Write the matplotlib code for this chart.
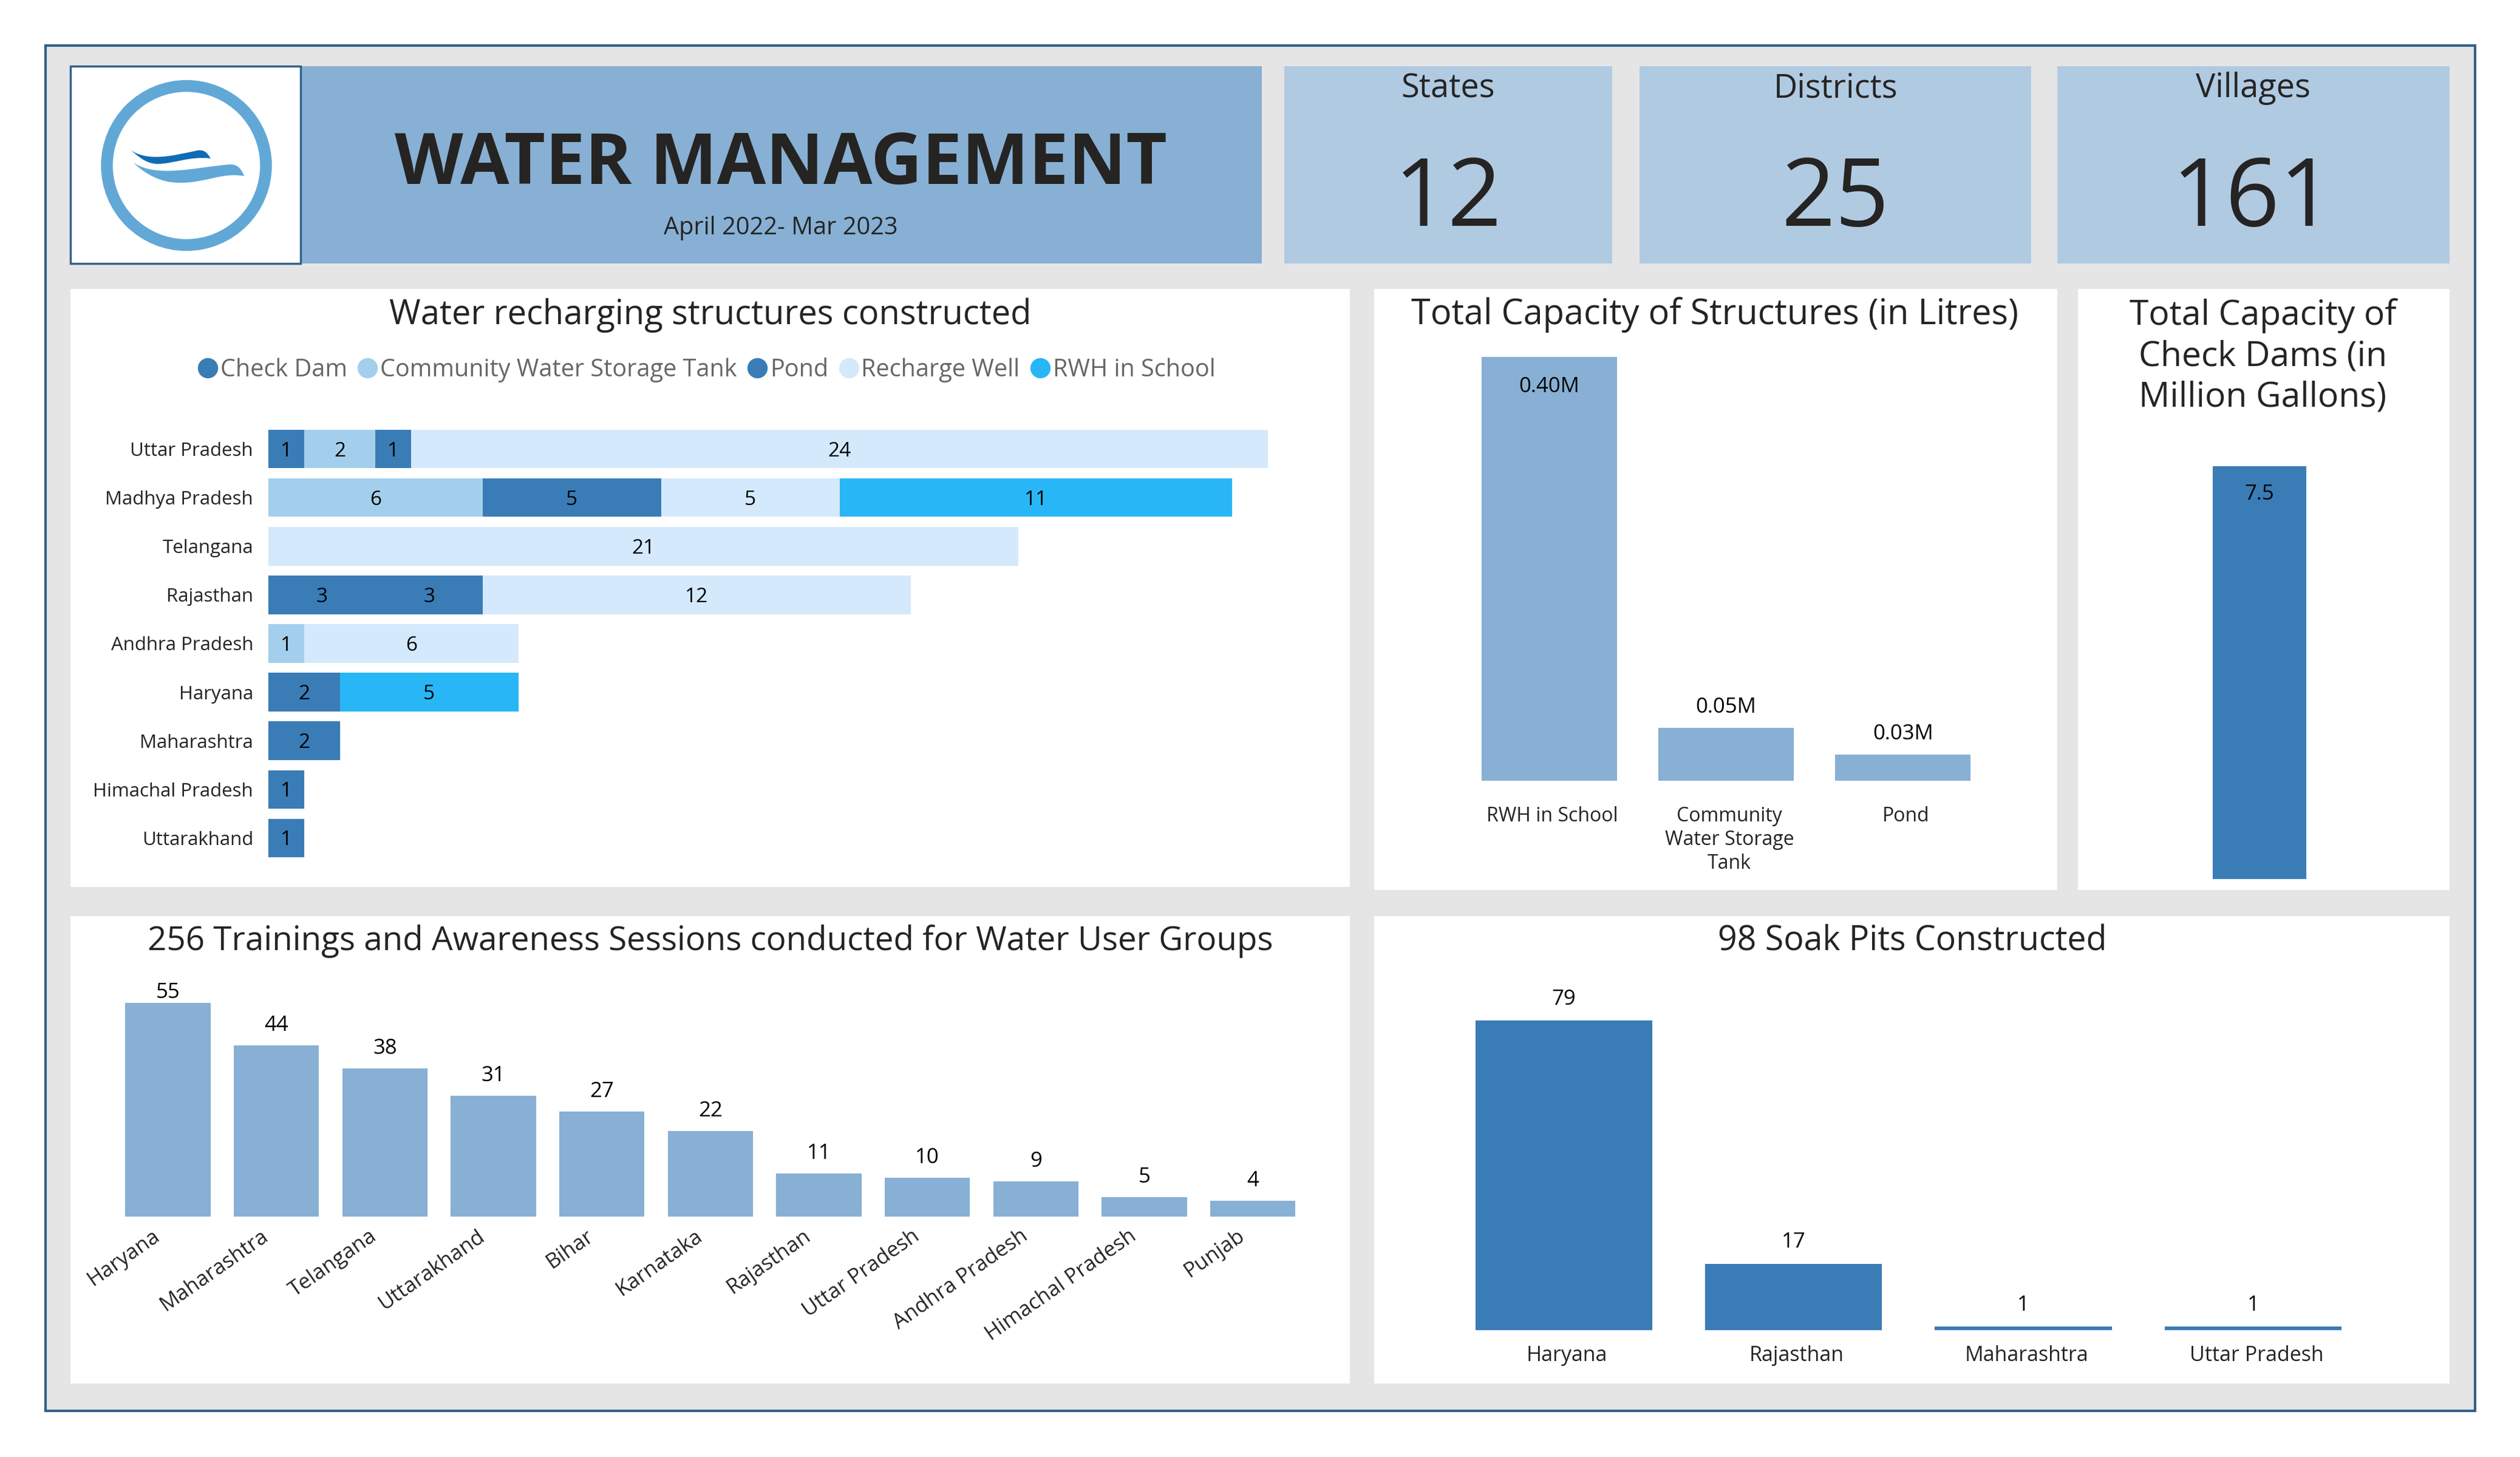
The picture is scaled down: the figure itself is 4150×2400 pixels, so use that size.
"""Water management dashboard."""

import matplotlib
matplotlib.use("Agg")
import matplotlib.pyplot as plt
from matplotlib.lines import Line2D
from matplotlib.patches import Circle, PathPatch, Rectangle
from matplotlib.path import Path
from matplotlib.transforms import ScaledTranslation

plt.rcParams["font.family"] = ["Open Sans", "DejaVu Sans"]

# headline numbers
card_names = ["States", "Districts", "Villages"]
card_values = [12, 25, 161]

# stacked bar: structures per state
structure_states = ["Uttar Pradesh", "Madhya Pradesh", "Telangana", "Rajasthan",
                    "Andhra Pradesh", "Haryana", "Maharashtra",
                    "Himachal Pradesh", "Uttarakhand"]
check_dam = [1, 0, 0, 3, 0, 2, 2, 1, 1]
storage_tank = [2, 6, 0, 0, 1, 0, 0, 0, 0]
pond = [1, 5, 0, 3, 0, 0, 0, 0, 0]
recharge_well = [24, 5, 21, 12, 6, 0, 0, 0, 0]
rwh_school = [0, 11, 0, 0, 0, 5, 0, 0, 0]
structure_names = ["Check Dam", "Community Water Storage Tank", "Pond",
                   "Recharge Well", "RWH in School"]

# capacity of structures, litres (millions)
capacity_names = ["RWH in School", "Community\nWater Storage\nTank", "Pond"]
capacity_values = [0.40, 0.05, 0.025]
capacity_labels = ["0.40M", "0.05M", "0.03M"]

check_dam_capacity = [7.5]

# trainings
training_states = ["Haryana", "Maharashtra", "Telangana", "Uttarakhand", "Bihar",
                   "Karnataka", "Rajasthan", "Uttar Pradesh", "Andhra Pradesh",
                   "Himachal Pradesh", "Punjab"]
training_counts = [55, 44, 38, 31, 27, 22, 11, 10, 9, 5, 4]

# soak pits
soak_states = ["Haryana", "Rajasthan", "Maharashtra", "Uttar Pradesh"]
soak_counts = [79, 17, 1, 1]

BG = "#E5E5E5"
EDGE = "#33618A"
BAND = "#87B0D4"
CARD = "#B0CAE2"
DARK = "#3A7CB6"
INK = "#252423"
LOGO = "#62A8D6"
structure_colors = [DARK, "#A4CFEC", DARK, "#D4E9FB", "#29B6F6"]

# layout is measured on a 1568 wide view of the page
W = 1568
H = 2400 * W / 4150
fig = plt.figure(figsize=(41.5, 24), dpi=100, facecolor="white")

page = fig.add_axes([0, 0, 1, 1], zorder=0)
page.set_xlim(0, W)
page.set_ylim(H, 0)
page.axis("off")


def box(l, t, r, b, color, edge="none", lw=0, zorder=1):
    page.add_patch(Rectangle((l, t), r - l, b - t, facecolor=color, edgecolor=edge,
                             linewidth=lw, zorder=zorder))


def chart_axes(l, t, r, b):
    ax = fig.add_axes([l / W, 1 - b / H, (r - l) / W, (b - t) / H], zorder=2)
    ax.patch.set_alpha(0)
    for side in ax.spines.values():
        side.set_visible(False)
    ax.set_yticks([])
    ax.tick_params(length=0)
    return ax


def label(x, y, s, size, color=INK, **kw):
    page.text(x, y, s, fontsize=size, color=color, ha="center", va="center", zorder=3, **kw)


def nudge_ticks(ax, points):
    # tick labels sit a little off the bar centres in the original
    shift = ScaledTranslation(points / 72, 0, fig.dpi_scale_trans)
    for tick in ax.get_xticklabels():
        tick.set_transform(tick.get_transform() + shift)


box(28.5, 28.5, 1540, 878, BG, EDGE, 3)

# header
box(187, 41, 785, 164, BAND)
box(44, 41, 187, 164, "white", EDGE, 2.5)
page.add_patch(Circle((116, 103), 49.5, facecolor="none", edgecolor=LOGO, linewidth=14, zorder=2))
wave_top = Path([(80.6, 93), (92, 101), (107, 97), (123, 93.6), (127, 93), (129, 95), (131, 98.6),
                 (118, 97), (108, 102), (98, 102), (90, 102), (85, 96), (80.6, 93)],
                [Path.MOVETO] + [Path.CURVE4] * 12)
wave_low = Path([(83, 101.3), (98, 111), (122, 104), (142.4, 102.4), (148, 102), (150, 105), (152, 109.6),
                 (138, 107), (128, 114), (112, 113.7), (100, 114), (90, 108), (83, 101.3)],
                [Path.MOVETO] + [Path.CURVE4] * 12)
page.add_patch(PathPatch(wave_top, facecolor="#0F6CB4", edgecolor="none", zorder=3))
page.add_patch(PathPatch(wave_low, facecolor=LOGO, edgecolor="none", zorder=3))

label(486, 103, "WATER MANAGEMENT", 84, weight="bold")
label(486, 142, "April 2022- Mar 2023", 28.6)

card_boxes = [(799, 1003), (1020, 1264), (1280, 1524)]
for (l, r), name, value in zip(card_boxes, card_names, card_values):
    box(l, 41, r, 164, CARD)
    label((l + r) / 2, 55, name, 39)
    label((l + r) / 2, 125, str(value), 112)

# white panels
box(44, 180, 840, 552, "white")
box(855, 180, 1280, 554, "white")
box(1293, 180, 1524, 554, "white")
box(44, 570, 840, 861, "white")
box(855, 570, 1524, 861, "white")

label(442, 196, "Water recharging structures constructed", 40.3)
label(1067, 196, "Total Capacity of Structures (in Litres)", 41.5)
label(1408, 222, "Total Capacity of\nCheck Dams (in\nMillion Gallons)", 41, linespacing=1.24)
label(442, 586, "256 Trainings and Awareness Sessions conducted for Water User Groups", 39.4)
label(1190, 586, "98 Soak Pits Constructed", 40)

# stacked bars
ax = chart_axes(167, 264.4, 789, 536.6)
left = [0] * len(structure_states)
series = [check_dam, storage_tank, pond, recharge_well, rwh_school]
for values, color, name in zip(series, structure_colors, structure_names):
    bars = ax.barh(structure_states, values, left=left, height=0.79, color=color, label=name)
    texts = ax.bar_label(bars, fmt=lambda v: f"{v:g}" if v else "", label_type="center",
                         fontsize=24, color="black")
    for t in texts:
        t.xyann = (0, -2.5)
    left = [a + b for a, b in zip(left, values)]
ax.set_xlim(0, 28)
ax.set_ylim(8.5, -0.5)
ax.set_xticks([])
ax.set_yticks(range(len(structure_states)), structure_states, fontsize=22.5, color=INK)
ax.tick_params(axis="y", pad=18)
handles = [Line2D([], [], linestyle="none", marker="o", markersize=23, color=c) for c in structure_colors]
page.legend(handles, structure_names, ncol=5, loc="center", bbox_to_anchor=(439, 230.5),
            bbox_transform=page.transData, frameon=False, fontsize=28.5, labelcolor="#666666",
            handletextpad=0.02, columnspacing=0.35, handlelength=1).set_zorder(3)

# capacity of structures
ax = chart_axes(909, 222, 1239, 486)
bars = ax.bar(range(3), capacity_values, width=0.764, color=BAND)
ax.bar_label(bars, labels=["", capacity_labels[1], capacity_labels[2]], padding=12, fontsize=25, color="black")
ax.bar_label(bars, labels=[capacity_labels[0], "", ""], label_type="edge", padding=-48, fontsize=25, color="black")
ax.set_xlim(-0.5, 2.5)
ax.set_ylim(0, 0.40)
ax.set_xticks(range(3), capacity_names, fontsize=23, color=INK, linespacing=1.25)
ax.tick_params(axis="x", pad=30)
nudge_ticks(ax, 3.8)

# check dam capacity
ax = chart_axes(1340, 290, 1472, 547)
bars = ax.bar([0], check_dam_capacity, width=0.44, color=DARK)
ax.bar_label(bars, labels=["7.5"], padding=-46, fontsize=25, color="black")
ax.set_xlim(-0.5, 0.5)
ax.set_ylim(0, 7.5)
ax.set_xticks([])

# trainings
ax = chart_axes(70.75, 624, 813.25, 757)
bars = ax.bar(training_states, training_counts, width=0.785, color=BAND)
texts = ax.bar_label(bars, padding=11.5, fontsize=25, color="black")
texts[0].xyann = (0, 0)  # the top label is squeezed against the title in the original
ax.set_xlim(-0.5, 10.5)
ax.set_ylim(0, 55)
ax.set_xticks(range(len(training_states)), training_states, fontsize=25, color=INK,
              rotation=35, ha="right", rotation_mode="anchor")
ax.tick_params(axis="x", pad=11)
nudge_ticks(ax, -19)

# soak pits
ax = chart_axes(901.5, 635, 1473.5, 828)
bars = ax.bar(soak_states, soak_counts, width=0.77, color=DARK)
ax.bar_label(bars, padding=13, fontsize=25, color="black")
ax.set_xlim(-0.5, 3.5)
ax.set_ylim(0, 79)
ax.set_xticks(range(len(soak_states)), soak_states, fontsize=24.5, color=INK)
ax.tick_params(axis="x", pad=18)
nudge_ticks(ax, 3.8)

fig.savefig("out.png", dpi=100)
